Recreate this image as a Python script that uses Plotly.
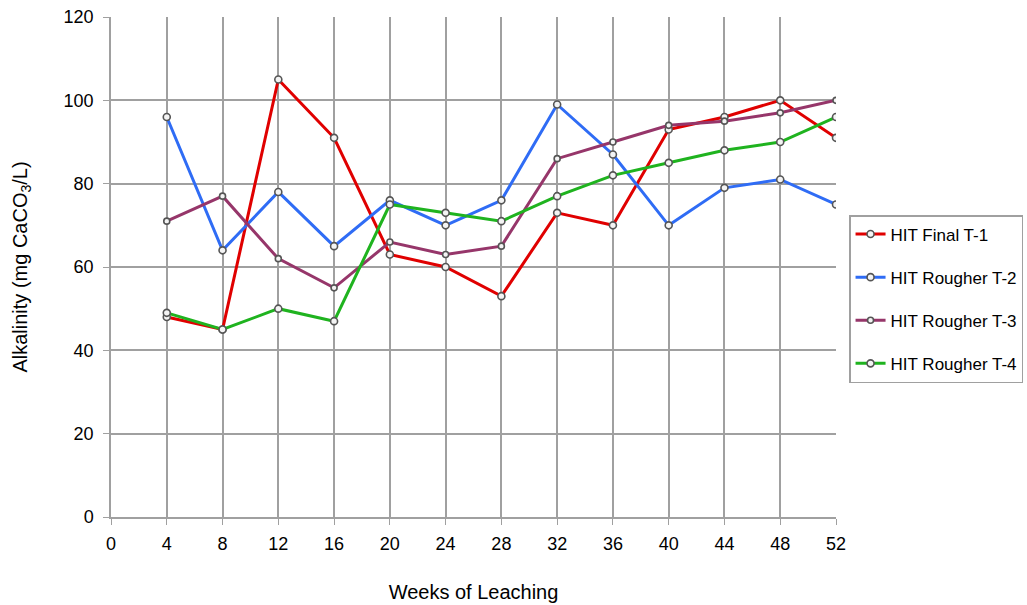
import plotly.graph_objects as go

WEEKS = [4, 8, 12, 16, 20, 24, 28, 32, 36, 40, 44, 48, 52]
T1 = [48, 45, 105, 91, 63, 60, 53, 73, 70, 93, 96, 100, 91]
T2 = [96, 64, 78, 65, 76, 70, 76, 99, 87, 70, 79, 81, 75]
T3 = [71, 77, 62, 55, 66, 63, 65, 86, 90, 94, 95, 97, 100]
T4 = [49, 45, 50, 47, 75, 73, 71, 77, 82, 85, 88, 90, 96]

SERIES = [
    ("HIT Final T-1", T1, "#e00000", 7),
    ("HIT Rougher T-2", T2, "#2f6cf5", 7),
    ("HIT Rougher T-3", T3, "#96366a", 6),
    ("HIT Rougher T-4", T4, "#1fb31f", 7),
]

fig = go.Figure()
for i, (name, vals, col, ms) in enumerate(SERIES):
    fig.add_trace(go.Scatter(
        x=WEEKS, y=vals, name=name, mode='lines+markers',
        line=dict(color=col, width=3),
        marker=dict(symbol='circle', size=ms, color='#f4f4f4',
                    line=dict(color='#555555', width=1.6)),
        legendgroup=f'g{i}',
    ))

grid = '#a0a0a0'
fig.update_xaxes(
    range=[0, 52], tickmode='array', tickvals=list(range(0, 53, 4)),
    showgrid=True, gridcolor=grid, gridwidth=1.5,
    showline=True, linecolor=grid, linewidth=1.5,
    ticks='outside', ticklen=6, tickcolor=grid, zeroline=False,
    ticklabelstandoff=4,
    title=dict(text='Weeks of Leaching', standoff=32, font=dict(size=20)),
    tickfont=dict(size=18),
)
fig.update_yaxes(
    range=[0, 120], tickmode='array', tickvals=list(range(0, 121, 20)),
    showgrid=True, gridcolor=grid, gridwidth=1.5,
    showline=True, linecolor=grid, linewidth=1.5,
    ticks='outside', ticklen=6, tickcolor=grid, zeroline=False,
    ticklabelstandoff=6,
    title=dict(text='Alkalinity (mg CaCO<sub>3</sub>/L)', standoff=31, font=dict(size=20)),
    tickfont=dict(size=18),
)
fig.update_layout(
    width=1027, height=605,
    margin=dict(l=111, r=191, t=17, b=88, autoexpand=False),
    paper_bgcolor='white', plot_bgcolor='white',
    font=dict(family='Liberation Sans, Arial, sans-serif', size=18, color='#000000'),
    legend=dict(
        x=1.018, y=0.604, xanchor='left', yanchor='top',
        bordercolor='#a0a0a0', borderwidth=1.5,
        font=dict(size=17), tracegroupgap=18,
        traceorder='grouped',
    ),
)
fig.write_html("out.html", config={'displayModeBar': False},
               post_script="document.body.style.margin='0';")
